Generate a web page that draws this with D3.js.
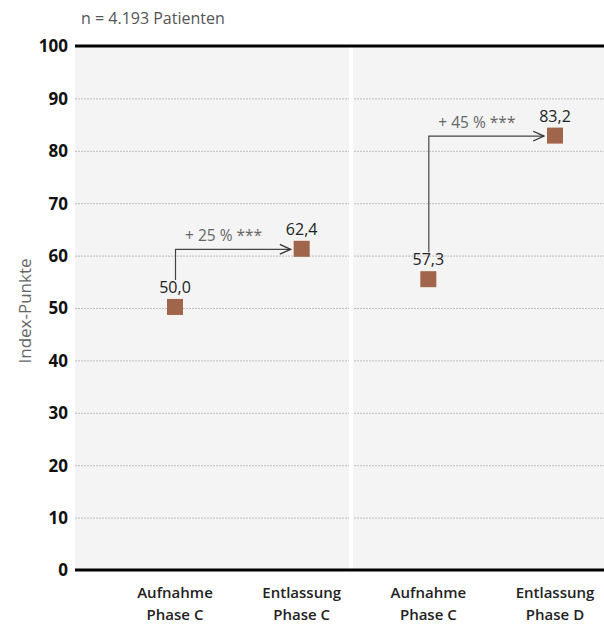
<!DOCTYPE html>
<html><head><meta charset="utf-8">
<script src="https://cdn.jsdelivr.net/npm/d3@7"></script>
<style>body{margin:0;background:#fff;font-family:"Open Sans",sans-serif;}</style>
</head><body>
<script>
const categoryIds = ["aufC", "entC", "aufC2", "entD"];
const categoryLines = [["Aufnahme","Phase C"],["Entlassung","Phase C"],["Aufnahme","Phase C"],["Entlassung","Phase D"]];
const values = [50.2, 61.3, 55.5, 82.9];          // plotted marker positions as read
const valueLabels = ["50,0", "62,4", "57,3", "83,2"];
const changes = [{from: 0, to: 1, label: "+ 25 % ***"}, {from: 2, to: 3, label: "+ 45 % ***"}];
const yTicks = [0,10,20,30,40,50,60,70,80,90,100];
const subtitle = "n = 4.193 Patienten";
const yTitle = "Index-Punkte";

(function(){
const W = 604, H = 624;
const svg = d3.select("body").append("svg").attr("width", W).attr("height", H);
const mLeft = 75, mRight = 604, mTop = 46, mBottom = 570, split = 350;

const y = d3.scaleLinear().domain([0, 100]).range([mBottom, mTop]);
const x = d3.scalePoint().domain(categoryIds).range([175, 555]);

svg.append("defs").append("marker").attr("id","arr").attr("viewBox","0 0 12 12")
  .attr("refX",11).attr("refY",6).attr("markerWidth",13).attr("markerHeight",13)
  .attr("markerUnits","userSpaceOnUse").attr("orient","auto")
  .append("path").attr("d","M1,1.5 L11,6 L1,10.5").attr("fill","none").attr("stroke","#333").attr("stroke-width",1.2);

// panels
svg.append("rect").attr("x", mLeft).attr("y", mTop).attr("width", split - 1 - mLeft).attr("height", mBottom - mTop).attr("fill", "#f3f4f3");
svg.append("rect").attr("x", split + 3).attr("y", mTop).attr("width", mRight - split - 3).attr("height", mBottom - mTop).attr("fill", "#f3f4f3");

// gridlines
svg.append("g").selectAll("line").data(yTicks.filter(d => d > 0 && d < 100)).join("line")
  .attr("x1", mLeft).attr("x2", mRight).attr("y1", d => y(d) + 0.5).attr("y2", d => y(d) + 0.5)
  .attr("stroke", "#bdbdbd").attr("stroke-width", 1).attr("stroke-dasharray", "2,1");
// panel gap over grid
svg.append("rect").attr("x", split - 1).attr("y", mTop).attr("width", 4).attr("height", mBottom - mTop).attr("fill", "#fff");

// top and bottom lines
[0, 100].forEach(v => svg.append("line").attr("x1", mLeft).attr("x2", mRight).attr("y1", y(v)).attr("y2", y(v))
  .attr("stroke", "#000").attr("stroke-width", 3));

// y axis
const yAxis = d3.axisLeft(y).tickValues(yTicks).tickSize(0).tickPadding(0).tickFormat(d3.format("d"));
const ga = svg.append("g").attr("transform", `translate(${mLeft - 7},0)`).call(yAxis);
ga.select(".domain").remove();
ga.selectAll("text").attr("font-family", "Open Sans").attr("font-size", 17).attr("font-weight", "bold")
  .attr("fill", "#111").attr("dy", "0.35em");

svg.append("text").attr("transform", `translate(31,311) rotate(-90)`)
  .attr("text-anchor", "middle").attr("font-size", 17).attr("fill", "#666").text(yTitle);

svg.append("text").attr("x", 81).attr("y", 24).attr("font-size", 16).attr("fill", "#555").text(subtitle);

// x labels
const xl = svg.append("g").selectAll("text").data(categoryIds).join("text")
  .attr("x", d => x(d)).attr("y", 598).attr("text-anchor", "middle")
  .attr("font-size", 15).attr("font-weight", 600).attr("fill", "#222");
xl.each(function(d, i) {
  const t = d3.select(this);
  categoryLines[i].forEach((ln, j) => t.append("tspan").attr("x", x(d)).attr("dy", j ? 22 : 0).text(ln));
});

// change arrows
changes.forEach(c => {
  const x0 = x(categoryIds[c.from]), x1 = x(categoryIds[c.to]);
  const yStart = y(values[c.from]) - 27, yEnd = y(values[c.to]);
  svg.append("path").attr("d", `M${x0 + 0.5},${yStart} V${yEnd + 0.5} H${x1 - 11}`)
    .attr("fill", "none").attr("stroke", "#444").attr("stroke-width", 1.2).attr("marker-end", "url(#arr)");
  svg.append("text").attr("x", x0 + 10).attr("y", yEnd - 8).attr("font-size", 15.5).attr("fill", "#666").text(c.label);
});

// markers
svg.append("g").selectAll("rect").data(values).join("rect")
  .attr("x", (d, i) => x(categoryIds[i]) - 8).attr("y", d => y(d) - 8)
  .attr("width", 16).attr("height", 16).attr("fill", "#a0654a");

svg.append("g").selectAll("text").data(values).join("text")
  .attr("x", (d, i) => x(categoryIds[i])).attr("y", d => y(d) - 14)
  .attr("text-anchor", "middle").attr("font-size", 16).attr("fill", "#222")
  .text((d, i) => valueLabels[i]);
})();
</script>
</body></html>
